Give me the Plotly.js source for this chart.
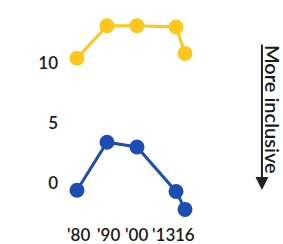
<!DOCTYPE html>
<html>
<head>
<meta charset="utf-8">
<script src="https://cdn.plot.ly/plotly-3.0.1.min.js"></script>
<style>html,body{margin:0;padding:0;background:#fff;}#chart{width:283px;height:244px;}</style>
</head>
<body>
<div id="chart"></div>
<script>
const years = [1980, 1990, 2000, 2013, 2016];
const tickLabels = ["'80", "'90", "'00", "'13", "16"];
const upperSeries = [10.4, 13.1, 13.1, 13.0, 10.8];
const lowerSeries = [-0.6, 3.4, 3.0, -0.7, -2.2];
const yTicks = [0, 5, 10];
const arrowLabel = "More inclusive";

// pixel nudges for crowded x labels (style only)
const labelShift = [1, 1, -1, -13, 0];

const traces = [
  {x: years, y: upperSeries, mode: 'lines+markers', line: {color: '#FFC61E', width: 3}, marker: {color: '#FFC61E', size: 15}, hoverinfo: 'skip', cliponaxis: false},
  {x: years, y: lowerSeries, mode: 'lines+markers', line: {color: '#1D4DB3', width: 3}, marker: {color: '#1D4DB3', size: 15}, hoverinfo: 'skip', cliponaxis: false}
];

const tickFont = {family: 'Lato, sans-serif', size: 17, color: '#1a1a1a', weight: 600};

const xLabelAnnots = years.map((yr, i) => ({
  xref: 'x', yref: 'paper', x: yr, y: 0, yshift: -3, xshift: labelShift[i],
  xanchor: 'center', yanchor: 'top', text: tickLabels[i], showarrow: false, font: tickFont
}));

const layout = {
  width: 283, height: 244,
  margin: {l: 62, r: 86, t: 9, b: 25},
  paper_bgcolor: '#fff', plot_bgcolor: '#fff',
  showlegend: false,
  font: tickFont,
  xaxis: {range: [1975, 2020], tickvals: years, showticklabels: false, showgrid: false, zeroline: false, showline: false, ticks: '', fixedrange: true},
  yaxis: {range: [-3, 14.5], tickvals: yTicks, ticktext: yTicks.map(String), tickangle: 0, ticklabelstandoff: 3, showgrid: false, zeroline: false, showline: false, ticks: '', fixedrange: true},
  annotations: [
    {xref: 'paper', yref: 'paper', x: 1.481, y: 0.138, ax: 0, ay: -147, axref: 'pixel', ayref: 'pixel', text: '', showarrow: true, arrowhead: 2, arrowsize: 1.3, arrowwidth: 2, arrowcolor: '#222', standoff: 0},
    {xref: 'paper', yref: 'paper', x: 1.562, y: 0.52, xanchor: 'center', yanchor: 'middle', text: arrowLabel, textangle: 90, showarrow: false, font: {family: 'Lato, sans-serif', size: 20, color: '#1a1a1a', weight: 600}}
  ].concat(xLabelAnnots)
};

Plotly.newPlot('chart', traces, layout, {staticPlot: true, displayModeBar: false});
</script>
</body>
</html>
